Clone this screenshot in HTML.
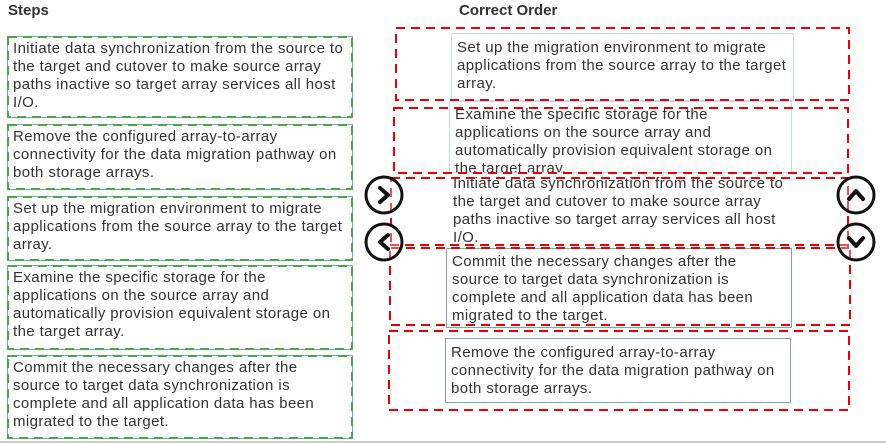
<!DOCTYPE html>
<html><head><style>
body{margin:0;width:886px;height:443px;background:#fff;position:relative;overflow:hidden;font-family:"Liberation Sans",sans-serif;}
.t{position:absolute;font-size:15px;line-height:18px;color:#333;box-sizing:border-box;padding:3px 5px;white-space:nowrap;overflow:hidden;letter-spacing:0.4px;}
.g{border:1px solid #7aa;}
.r{border:1px solid #bde;background:#fff;}
h1{position:absolute;margin:0;font-size:15px;font-weight:bold;color:#333;}
</style></head><body>
<h1 style="left:8px;top:2px">Steps</h1>
<h1 style="left:459px;top:2px">Correct Order</h1>

<div class="t g" style="left:7px;top:36px;width:346px;height:82px">Initiate data synchronization from the source to<br>the target and cutover to make source array<br>paths inactive so target array services all host<br>I/O.</div>
<div class="t g" style="left:7px;top:124px;width:346px;height:66px">Remove the configured array-to-array<br>connectivity for the data migration pathway on<br>both storage arrays.</div>
<div class="t g" style="left:7px;top:196px;width:346px;height:65px">Set up the migration environment to migrate<br>applications from the source array to the target<br>array.</div>
<div class="t g" style="left:7px;top:265px;width:346px;height:85px">Examine the specific storage for the<br>applications on the source array and<br>automatically provision equivalent storage on<br>the target array.</div>
<div class="t g" style="left:7px;top:355px;width:346px;height:84px">Commit the necessary changes after the<br>source to target data synchronization is<br>complete and all application data has been<br>migrated to the target.</div>

<div class="t r" style="left:451px;top:33px;width:343px;height:68px;padding-top:5px">Set up the migration environment to migrate<br>applications from the source array to the target<br>array.</div>
<div class="t r" style="left:449px;top:101px;width:343px;height:72px;padding-top:4px">Examine the specific storage for the<br>applications on the source array and<br>automatically provision equivalent storage on<br>the target array.</div>
<div class="t" style="left:448px;top:173px;width:343px;height:75px;padding-top:2px;background:#fff">Initiate data synchronization from the source to<br>the target and cutover to make source array<br>paths inactive so target array services all host<br>I/O.</div>
<div class="t r" style="left:446px;top:248px;width:346px;height:80px;border-color:#7aa;padding-top:4px">Commit the necessary changes after the<br>source to target data synchronization is<br>complete and all application data has been<br>migrated to the target.</div>
<div class="t r" style="left:445px;top:338px;width:346px;height:65px;border-color:#7aa;padding-top:5px">Remove the configured array-to-array<br>connectivity for the data migration pathway on<br>both storage arrays.</div>

<svg width="886" height="443" style="position:absolute;left:0;top:0" fill="none">
<g stroke="#4a4" stroke-width="2" stroke-dasharray="9,6">
<rect x="8" y="37" width="344" height="80"/>
<rect x="8" y="125" width="344" height="64"/>
<rect x="8" y="197" width="344" height="63"/>
<rect x="8" y="266" width="344" height="83"/>
<rect x="8" y="356" width="344" height="82"/>
</g>
<g stroke="#e00" stroke-width="2" stroke-dasharray="9,6">
<rect x="396" y="28" width="453" height="72"/>
<rect x="394" y="108" width="454" height="65"/>
<rect x="391" y="178" width="457" height="70"/>
<rect x="390" y="245" width="460" height="80"/>
<rect x="389" y="331" width="460" height="79"/>
</g>
<g stroke="#111" stroke-width="3">
<circle cx="384" cy="195" r="18" fill="#fff" fill-opacity="0.3"/>
<circle cx="384" cy="242" r="18" fill="#fff" fill-opacity="0.3"/>
<circle cx="856" cy="195" r="18" fill="#fff" fill-opacity="0.3"/>
<circle cx="856" cy="242" r="18" fill="#fff" fill-opacity="0.3"/>
</g>
<g stroke="#111" stroke-width="4" stroke-linecap="round" stroke-linejoin="round">
<polyline points="380,188 388,195 380,202"/>
<polyline points="388,235 380,242 388,249"/>
<polyline points="849,199 856,191 863,199"/>
<polyline points="849,238 856,246 863,238"/>
</g>
<line x1="0" y1="442" x2="886" y2="442" stroke="#ccc" stroke-width="2"/>
</svg>
</body></html>
